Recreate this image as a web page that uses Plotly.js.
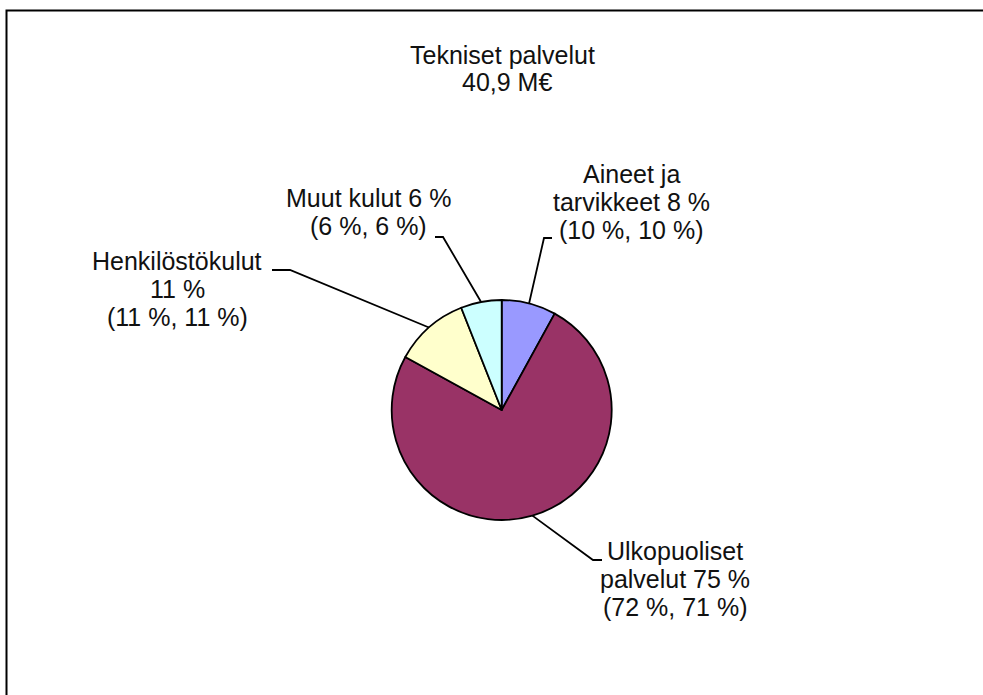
<!DOCTYPE html>
<html>
<head>
<meta charset="utf-8">
<script src="https://cdn.plot.ly/plotly-3.0.1.min.js"></script>
<style>html,body{margin:0;padding:0;background:#fff;}#chart{width:983px;height:695px;}</style>
</head>
<body>
<div id="chart"></div>
<script>
// ---- data ----
const categories = ["Aineet ja tarvikkeet", "Ulkopuoliset palvelut", "Henkilöstökulut", "Muut kulut"];
const shares = [8, 75, 11, 6];
const colors = ["#9999FF", "#993366", "#FFFFCC", "#CCFFFF"];
const labelLines = [
  ["Aineet ja", "tarvikkeet 8 %", "(10 %, 10 %)"],
  ["Ulkopuoliset", "palvelut 75 %", "(72 %, 71 %)"],
  ["Henkilöstökulut", "11 %", "(11 %, 11 %)"],
  ["Muut kulut 6 %", "(6 %, 6 %)"]
];
const titleLines = ["Tekniset palvelut", "40,9 M€"];

// ---- layout (pixel geometry) ----
const W = 983, H = 695;
const cx = 501.7, cy = 410, R = 110;
const px = x => x / W;
const py = y => 1 - y / H;
const FS = 25, LH = 28;
const font = {family: "Liberation Sans, Arial, sans-serif", size: FS, color: "#111"};

// label block placement: center x, first line center y
const labelPos = [
  {x: 631, y: 174},
  {x: 675, y: 551},
  {x: 177, y: 261},
  {x: 368, y: 198}
];
// leader line elbow and end points
const leaderPts = [
  [[544, 238], [552, 238]],
  [[593, 560], [602, 560]],
  [[290, 270], [272, 270]],
  [[443, 237], [435, 237]]
];

const annotations = [];
titleLines.forEach((t, i) => {
  annotations.push({text: t, x: px(i === 0 ? 502 : 507), y: py(55 + i * 27), xref: "paper", yref: "paper",
    xanchor: "center", yanchor: "middle", showarrow: false, font: font});
});
labelLines.forEach((lines, k) => {
  lines.forEach((t, i) => {
    annotations.push({text: t, x: px(labelPos[k].x), y: py(labelPos[k].y + i * LH), xref: "paper", yref: "paper",
      xanchor: "center", yanchor: "middle", showarrow: false, font: font});
  });
});

// leader lines starting at slice mid-angle on pie edge
const total = shares.reduce((a, b) => a + b, 0);
const shapes = [];
let cum = 0;
shares.forEach((v, k) => {
  const mid = (cum + v / 2) / total * 2 * Math.PI;
  cum += v;
  const sx = cx + R * Math.sin(mid), sy = cy - R * Math.cos(mid);
  const [e, f] = leaderPts[k];
  shapes.push({type: "path", xref: "paper", yref: "paper",
    path: `M ${px(sx)} ${py(sy)} L ${px(e[0])} ${py(e[1])} L ${px(f[0])} ${py(f[1])}`,
    line: {color: "#000", width: 1.8}});
});
// outer chart border (right/bottom beyond view)
shapes.push({type: "rect", xref: "paper", yref: "paper", x0: px(6.5), y0: py(705), x1: px(995), y1: py(10.5),
  line: {color: "#000", width: 2}, fillcolor: "rgba(0,0,0,0)"});

const trace = {
  type: "pie",
  labels: categories,
  values: shares,
  sort: false,
  direction: "clockwise",
  rotation: 0,
  textinfo: "none",
  hoverinfo: "skip",
  marker: {colors: colors, line: {color: "#000", width: 1.8}},
  domain: {x: [px(cx - R), px(cx + R)], y: [py(cy + R), py(cy - R)]}
};

Plotly.newPlot("chart", [trace], {
  width: W, height: H,
  margin: {l: 0, r: 0, t: 0, b: 0},
  paper_bgcolor: "#fff",
  showlegend: false,
  annotations: annotations,
  shapes: shapes
}, {staticPlot: true});
</script>
</body>
</html>
